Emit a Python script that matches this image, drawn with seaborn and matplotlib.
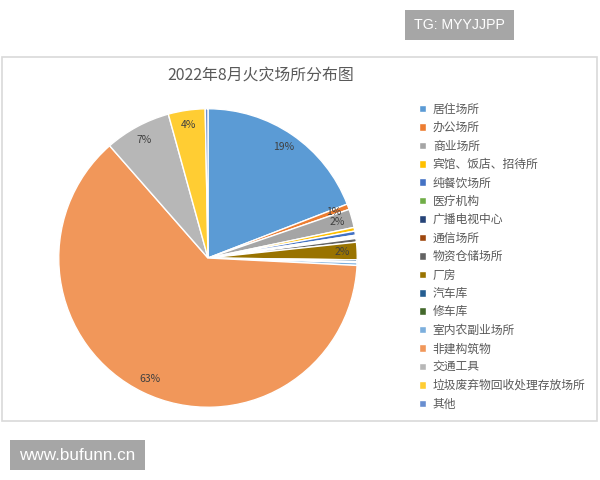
import seaborn as sns
import matplotlib.pyplot as plt
from matplotlib.patches import Rectangle

# 数据（从图中估读，单位：%）
places = ["居住场所", "办公场所", "商业场所", "宾馆、饭店、招待所", "纯餐饮场所",
          "医疗机构", "广播电视中心", "通信场所", "物资仓储场所", "厂房",
          "汽车库", "修车库", "室内农副业场所", "非建构筑物", "交通工具",
          "垃圾废弃物回收处理存放场所", "其他"]
shares = [19.2, 0.6, 2.0, 0.4, 0.45, 0.15, 0.1, 0.1, 0.4, 1.9,
          0.2, 0.1, 0.3, 63.0, 7.2, 4.0, 0.3]
colors = ["#5B9BD5", "#ED7D31", "#A5A5A5", "#FFC000", "#4472C4", "#70AD47",
          "#264478", "#9E480E", "#636363", "#997300", "#255E91", "#43682B",
          "#7CAFDD", "#F1975A", "#B7B7B7", "#FFCD33", "#698ED0"]

sns.set_style("white")
plt.rcParams['font.family'] = ['Noto Sans CJK SC', 'DejaVu Sans']

fig = plt.figure(figsize=(6, 4.8), dpi=100)


def px_rect(x0, y0, x1, y1, **kw):
    # 像素坐标（左上为原点）转成 figure 坐标的矩形
    r = Rectangle((x0 / 600, 1 - y1 / 480), (x1 - x0) / 600, (y1 - y0) / 480,
                  transform=fig.transFigure, **kw)
    fig.patches.append(r)


# 图表外框
px_rect(2, 57, 597, 421, facecolor="white", edgecolor="#D9D9D9",
        linewidth=1.2, zorder=-1)

fig.text(261 / 600, 1 - 75 / 480, "2022年8月火灾场所分布图", ha="center",
         va="center", fontsize=11.4, color="#595959")

ax = fig.add_axes([58 / 600, 72 / 480, 300 / 600, 300 / 480])
ax.patch.set_alpha(0)


def fmt(p):
    return f"{p:.0f}%" if p >= 0.5 else ""


wedges, texts, autotexts = ax.pie(
    shares, colors=sns.color_palette(colors), startangle=90, counterclock=False,
    autopct=fmt, pctdistance=0.9,
    wedgeprops=dict(edgecolor="white", linewidth=1),
    textprops=dict(fontsize=7.5, color="#404040"))
ax.set_xlim(-1.005, 1.005)
ax.set_ylim(-1.005, 1.005)
ax.set_aspect("equal")

leg = fig.legend(wedges, places, loc="upper left",
                 bbox_to_anchor=(408 / 600, 1 - 92 / 480), frameon=False,
                 fontsize=8.5, labelcolor="#595959", handlelength=0.6,
                 handleheight=0.6, handletextpad=0.6, labelspacing=0.46)

# 水印标签
px_rect(405, 10, 514, 40, facecolor="#A6A6A6", edgecolor="none")
fig.text(459.5 / 600, 1 - 25 / 480, "TG: MYYJJPP", ha="center", va="center",
         fontsize=10.2, color="white", family="Liberation Sans")
px_rect(10, 440, 145, 470, facecolor="#A6A6A6", edgecolor="none")
fig.text(77.5 / 600, 1 - 455 / 480, "www.bufunn.cn", ha="center", va="center",
         fontsize=12.3, color="white", family="Liberation Sans")

fig.savefig("out.png", dpi=100)
